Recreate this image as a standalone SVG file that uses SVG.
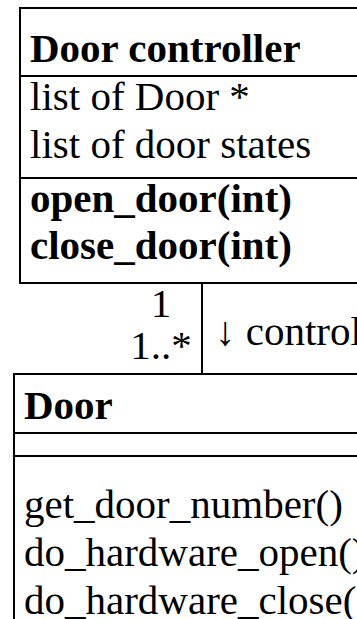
<svg xmlns="http://www.w3.org/2000/svg" width="357" height="619" viewBox="0 0 357 619">
  <style>
    .box { fill: #ffffff; stroke: #000000; stroke-width: 2; }
    .sep { stroke: #000000; stroke-width: 2; }
    .t { font-family: 'Liberation Serif', Tinos, 'Nimbus Roman', 'DejaVu Serif', serif; font-size: 41px; fill: #000000; }
    .b { font-weight: bold; }
    .edge { stroke: #000000; stroke-width: 2; fill: none; }
  </style>
  <rect width="357" height="619" fill="#ffffff"/>

  <!-- association between the two classes -->
  <g id="connectors">
    <line class="edge" x1="202" y1="283" x2="202" y2="374"/>
    <text class="t" x="161" y="317" text-anchor="middle">1</text>
    <text class="t" x="161" y="359" text-anchor="middle">1..*</text>
    <text class="t" x="215" y="345">↓ control</text>
  </g>

  <!-- Door controller class -->
  <g id="door-controller">
    <rect class="box" x="20" y="8" width="400" height="275"/>
    <line class="sep" x1="20" y1="76" x2="420" y2="76"/>
    <line class="sep" x1="20" y1="178" x2="420" y2="178"/>
    <text class="t b" x="30" y="62">Door controller</text>
    <text class="t" x="30" y="110">list of Door *</text>
    <text class="t" x="30" y="158">list of door states</text>
    <text class="t b" x="30" y="212">open_door(int)</text>
    <text class="t b" x="30" y="259">close_door(int)</text>
  </g>

  <!-- Door class -->
  <g id="door">
    <rect class="box" x="14" y="374" width="400" height="260"/>
    <line class="sep" x1="14" y1="433" x2="414" y2="433"/>
    <line class="sep" x1="14" y1="456" x2="414" y2="456"/>
    <text class="t b" x="24" y="419">Door</text>
    <text class="t" x="24" y="518">get_door_number()</text>
    <text class="t" x="24" y="566">do_hardware_open()</text>
    <text class="t" x="24" y="614">do_hardware_close()</text>
  </g>
</svg>
